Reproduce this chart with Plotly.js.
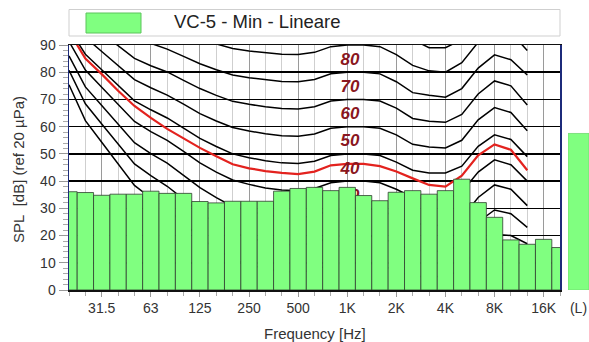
<!DOCTYPE html>
<html>
<head>
<meta charset="utf-8">
<script src="https://cdn.plot.ly/plotly-3.0.1.min.js"></script>
<style>
  html, body { margin: 0; padding: 0; background: #fff; }
  #chart { width: 589px; height: 342px; }
</style>
</head>
<body>
<div id="chart"></div>
<script>
// 1/3-octave band centres, 20 Hz .. 20 kHz
const bandLabels = ['20','25','31.5','40','50','63','80','100','125','160','200','250','315','400','500',
  '630','800','1K','1.25K','1.6K','2K','2.5K','3.15K','4K','5K','6.3K','8K','10K','12.5K','16K','20K'];

// measured band levels, dB SPL
const bandLevels = [36.1,35.8,34.8,35.2,35.2,36.3,35.5,35.5,32.5,32.0,32.6,32.6,32.6,36.3,37.3,
  37.7,36.5,37.7,34.7,32.8,35.9,36.5,35.2,36.5,40.7,32.1,26.7,18.4,16.8,18.6,15.6];

// overall level (L)
const overallLevel = 57.5;

// labelled frequency ticks
const tickLabels = ['31.5','63','125','250','500','1K','2K','4K','8K','16K'];

// equal-loudness contours, 20 Hz .. 12.5 kHz (dB SPL per band)
const phon100 = [125.2,119.7,116.4,113.1,109.8,107.9,106.2,104.0,101.8,100.1,98.5,97.7,97.1,96.6,96.5,97.3,99.4,100,100,99.4,96.5,92,89,89,92,100,106,104.5,98];
const phon90  = [117.8,111.8,108.2,104.6,101,98.9,97.1,94.7,92.3,90.4,88.7,87.8,87.1,86.6,86.5,87.3,89.4,90,90,89.4,86.5,82.5,80.5,80,83.5,91,96,94.5,88];
const phon80  = [112,105.2,101.1,97,93,90.6,88.5,85.8,83.1,80.9,79,78,77.2,76.6,76.5,77.3,79.4,80,80,79.4,76.5,72.5,71.5,70.8,74,81.5,86.4,84.6,79];
const phon70  = [106.7,99,94.4,89.8,85.1,82.4,80.1,77,74,71.5,69.3,68.2,67.3,66.7,66.5,67.3,69.4,70,70,69.4,66.8,63,62,61.6,64.5,72,76.8,75,68];
const phon60  = [101.4,92.8,87.6,82.5,77.3,74.3,71.6,68.3,64.8,62.1,59.7,58.4,57.4,56.7,56.5,57.3,59.4,60,60,59.4,57,53.5,52.5,52.2,55,62.5,67,65.2,58.5];
const phon50  = [96.1,86.6,80.9,75.2,69.5,66.2,63.2,59.5,55.7,52.7,50,48.6,47.5,46.7,46.5,47.3,49.4,50,50,49.4,47,44,43,43,45.5,52.8,57,55.3,49];
const phon40  = [91.3,80.8,74.5,68.2,61.9,58.2,55,50.9,46.7,43.3,40.4,38.8,37.5,36.7,36.5,37.3,39.4,40,40,39.4,37,34,33.5,33,36,43.3,47.8,46,40];
const phon30  = [86,74.6,67.8,60.9,54.1,50.1,46.6,42.1,37.6,33.9,30.7,29,27.6,26.7,26.5,27.3,29.4,30,30,29.4,27,24.5,24,23.5,26.5,34,38.6,37,31];
const phon20  = [80.7,68.4,61,53.6,46.3,42,38.1,33.4,28.4,24.5,21.1,19.2,17.7,16.7,16.5,17.3,19.4,20,20,19.4,17,14.5,14.5,14,17,25,29.4,28,23];
const phon10  = [75.4,62.2,54.3,46.4,38.4,33.8,29.7,24.6,19.3,15.1,11.4,9.4,7.8,6.8,6.5,7.3,9.4,10,10,9.4,7,5,5,5,7.5,16.5,20.5,20,17];

// loudness contour of the measured spectrum
const loudnessContour = [95,85,79.3,73.2,67.6,63.2,59.2,55.7,52.2,49.1,46.2,44.7,43.7,43,42.6,43.5,45.8,46.3,46.3,45.5,43.5,41,38.6,38,42,49.5,53.5,51.5,44];

// contour labels shown next to 1 kHz
const labelledPhons = [80, 70, 60, 50, 40, 30];

const contours = [phon100, phon90, phon80, phon70, phon60, phon50, phon40, phon30, phon20, phon10];

const bandIdx = bandLabels.map((_, i) => i);
const contourIdx = bandIdx.slice(0, phon90.length);
const tickIdx = tickLabels.map(t => bandLabels.indexOf(t));

const FONT = 'Liberation Sans, Arial, Helvetica, sans-serif';
const GREEN = '#80ff80';

const traces = [];

contours.forEach(c => traces.push({
  type: 'scatter', mode: 'lines', x: contourIdx, y: c,
  xaxis: 'x', yaxis: 'y', hoverinfo: 'skip',
  line: { color: '#000', width: 1.5 }
}));

traces.push({
  type: 'scatter', mode: 'lines', x: contourIdx, y: loudnessContour,
  xaxis: 'x', yaxis: 'y', hoverinfo: 'skip',
  line: { color: '#e3221e', width: 2.2 }
});

// phon labels sit just above each contour at 1 kHz
traces.push({
  type: 'scatter', mode: 'text',
  x: labelledPhons.map(() => 17.17),
  y: labelledPhons.map(p => p + 4.3),
  text: labelledPhons.map(String),
  textposition: 'middle center',
  textfont: { family: FONT, size: 17, color: '#8a1620', weight: 'bold', style: 'italic' },
  xaxis: 'x', yaxis: 'y', hoverinfo: 'skip', cliponaxis: false
});

// band levels, on an overlay so they cover the contours
traces.push({
  type: 'bar', x: bandIdx, y: bandLevels, width: 1,
  xaxis: 'x3', yaxis: 'y',
  marker: { color: GREEN, line: { color: '#2e3e2e', width: 0.8 } },
  hoverinfo: 'skip'
});

// overall level bar
traces.push({
  type: 'bar', x: [0], y: [overallLevel], width: 1,
  xaxis: 'x2', yaxis: 'y2',
  marker: { color: GREEN, line: { color: '#6fd86f', width: 0.8 } },
  hoverinfo: 'skip'
});

const W = 589, H = 342, L = 69, R = 0, T = 45, B = 52;
const plotW = W - L - R, plotH = H - T - B;
const mainRight = (560 - L) / plotW;
const px = x => (x - L) / plotW;          // page x -> paper x
const py = y => (H - B - y) / plotH;      // page y -> paper y

const layout = {
  width: W, height: H,
  margin: { l: L, r: R, t: T, b: B, pad: 0 },
  paper_bgcolor: '#fff', plot_bgcolor: '#fff',
  showlegend: false,
  font: { family: FONT, size: 14, color: '#333' },
  xaxis: {
    domain: [0, mainRight], range: [0, 30], fixedrange: true,
    tickmode: 'array', tickvals: tickIdx, ticktext: tickLabels,
    ticks: 'outside', ticklen: 5, tickcolor: '#999', tickwidth: 1,
    tickfont: { family: FONT, size: 14, color: '#333' },
    showgrid: true, gridcolor: '#9a9a9a', gridwidth: 1,
    minor: { tick0: 0, dtick: 1, ticks: 'outside', ticklen: 4, tickcolor: '#aaa',
             showgrid: true, gridcolor: '#cfcfcf', gridwidth: 1 },
    showline: true, linecolor: '#111', linewidth: 1.5, mirror: true,
    zeroline: false
  },
  xaxis3: {
    overlaying: 'x', range: [0, 30], anchor: 'y', fixedrange: true,
    visible: false, showgrid: false, zeroline: false
  },
  yaxis: {
    domain: [0, 1], range: [0, 90], fixedrange: true,
    tickmode: 'array', tickvals: [0,10,20,30,40,50,60,70,80,90],
    ticks: 'outside', ticklen: 9, tickcolor: '#999', tickwidth: 1,
    tickfont: { family: FONT, size: 14, color: '#333' },
    showgrid: true, gridcolor: '#000', gridwidth: 1.5,
    minor: { dtick: 2, ticks: 'outside', ticklen: 5, tickcolor: '#aaa', showgrid: false },
    showline: true, linecolor: '#1c2a7a', linewidth: 1.5, mirror: true,
    zeroline: false
  },
  xaxis2: {
    domain: [px(568), 1], range: [-0.5, 0.5], anchor: 'y2', fixedrange: true,
    tickmode: 'array', tickvals: [0], ticktext: ['(L)'],
    ticks: 'outside', ticklen: 5, tickcolor: 'rgba(0,0,0,0)',
    tickfont: { family: FONT, size: 14, color: '#333' },
    showgrid: false, zeroline: false, showline: false
  },
  yaxis2: {
    domain: [0, 1], range: [0, 90], anchor: 'x2', fixedrange: true,
    visible: false, showgrid: false, zeroline: false
  },
  shapes: [
    { type: 'rect', xref: 'paper', yref: 'paper', x0: 0, x1: mainRight, y0: py(36), y1: py(9.5),
      line: { color: '#cfcfcf', width: 1 }, fillcolor: '#fff', layer: 'above' },
    { type: 'rect', xref: 'paper', yref: 'paper', x0: px(86), x1: px(141), y0: py(33), y1: py(13),
      line: { color: '#5cc45c', width: 1 }, fillcolor: GREEN, layer: 'above' }
  ],
  annotations: [
    { xref: 'paper', yref: 'paper', x: px(172), y: py(21.5), xanchor: 'left', yanchor: 'middle',
      text: 'VC-5 - Min - Lineare', showarrow: false,
      font: { family: FONT, size: 18.5, color: '#222' } },
    { xref: 'paper', yref: 'paper', x: mainRight / 2, y: py(333), xanchor: 'center', yanchor: 'middle',
      text: 'Frequency [Hz]', showarrow: false,
      font: { family: FONT, size: 15, color: '#333' } },
    { xref: 'paper', yref: 'paper', x: px(18), y: py(170), xanchor: 'center', yanchor: 'middle',
      text: 'SPL&nbsp;&nbsp;[dB] (ref 20 µPa)', textangle: -90, showarrow: false,
      font: { family: FONT, size: 15, color: '#333' } }
  ]
};

Plotly.newPlot('chart', traces, layout, { staticPlot: true, displayModeBar: false });
</script>
</body>
</html>
